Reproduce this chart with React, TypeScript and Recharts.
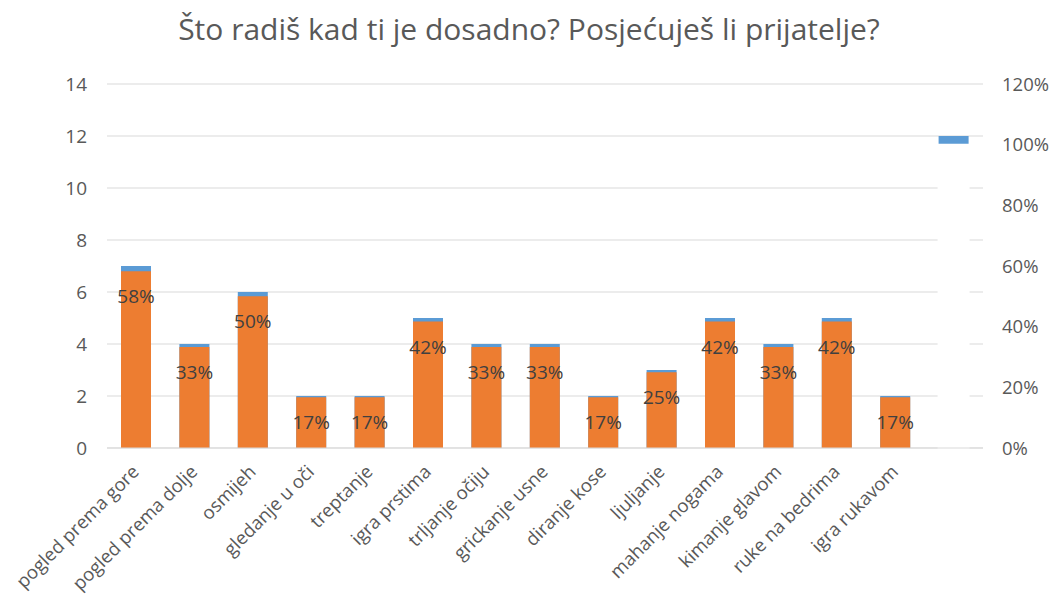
import { Bar, CartesianGrid, Cell, ComposedChart, LabelList, XAxis, YAxis } from "recharts";

const categories = [
  "pogled prema gore",
  "pogled prema dolje",
  "osmijeh",
  "gledanje u oči",
  "treptanje",
  "igra prstima",
  "trljanje očiju",
  "grickanje usne",
  "diranje kose",
  "ljuljanje",
  "mahanje nogama",
  "kimanje glavom",
  "ruke na bedrima",
  "igra rukavom",
  "",
];
const counts = [7, 4, 6, 2, 2, 5, 4, 4, 2, 3, 5, 4, 5, 2, 12];
const shares = [0.583, 0.333, 0.5, 0.167, 0.167, 0.417, 0.333, 0.333, 0.167, 0.25, 0.417, 0.333, 0.417, 0.167, 1];
const leftTicks = [0, 2, 4, 6, 8, 10, 12, 14];
const rightTicks = [0, 0.2, 0.4, 0.6, 0.8, 1, 1.2];

const data = categories.map((name, i) => ({ name, count: counts[i], share: shares[i] }));

const FONT = "'Open Sans', sans-serif";
const GREY = "#595959";

function CategoryTick({ x, y, payload }: any) {
  const ax = x + 4;
  const ay = y + 17;
  return (
    <text x={ax} y={ay} transform={`rotate(-45, ${ax}, ${ay})`} textAnchor="end" fill={GREY} fontSize={18.5} fontFamily={FONT}>
      {payload.value}
    </text>
  );
}

function ShareLabel({ x, y, width, value, index }: any) {
  if (index === categories.length - 1) return null;
  return (
    <text x={x + width / 2} y={y + 32} textAnchor="middle" fill="#404040" fontSize={19} fontFamily={FONT}>
      {Math.round(value * 100) + "%"}
    </text>
  );
}

export default function App() {
  return (
    <div style={{ position: "absolute", left: 0, top: 0, width: 1058, height: 602, background: "#fff" }}>
      <div
        style={{
          position: "absolute",
          top: 14,
          left: 0,
          width: 1058,
          textAlign: "center",
          fontFamily: FONT,
          fontSize: 30,
          lineHeight: "30px",
          color: GREY,
        }}
      >
        Što radiš kad ti je dosadno? Posjećuješ li prijatelje?
      </div>
      <ComposedChart
        width={1058}
        height={602}
        data={data}
        margin={{ top: 84, right: 0, bottom: 0, left: 0 }}
        barSize={30}
        barGap={-30}
      >
        <CartesianGrid yAxisId="left" vertical={false} stroke="#d9d9d9" />
        <XAxis dataKey="name" height={154} interval={0} tickLine={false} stroke="#d9d9d9" tick={<CategoryTick />} />
        <YAxis
          yAxisId="left"
          width={107}
          domain={[0, 14]}
          ticks={leftTicks}
          axisLine={false}
          tickLine={false}
          tickMargin={14}
          tick={{ fill: GREY, fontSize: 19, fontFamily: FONT }}
        />
        <YAxis
          yAxisId="right"
          orientation="right"
          width={75}
          domain={[0, 1.2]}
          ticks={rightTicks}
          axisLine={false}
          tickLine={false}
          tickMargin={13}
          tickFormatter={(v: number) => Math.round(v * 100) + "%"}
          tick={{ fill: GREY, fontSize: 18.5, fontFamily: FONT }}
        />
        <Bar yAxisId="left" dataKey="count" fill="#5b9bd5" isAnimationActive={false} />
        <Bar yAxisId="right" dataKey="share" fill="#ed7d31" isAnimationActive={false}>
          {data.map((d, i) =>
            i === data.length - 1 ? (
              <Cell key={i} fill="#ffffff" stroke="#ffffff" strokeWidth={2} />
            ) : (
              <Cell key={i} fill="#ed7d31" />
            )
          )}
          <LabelList dataKey="share" content={<ShareLabel />} />
        </Bar>
      </ComposedChart>
    </div>
  );
}
